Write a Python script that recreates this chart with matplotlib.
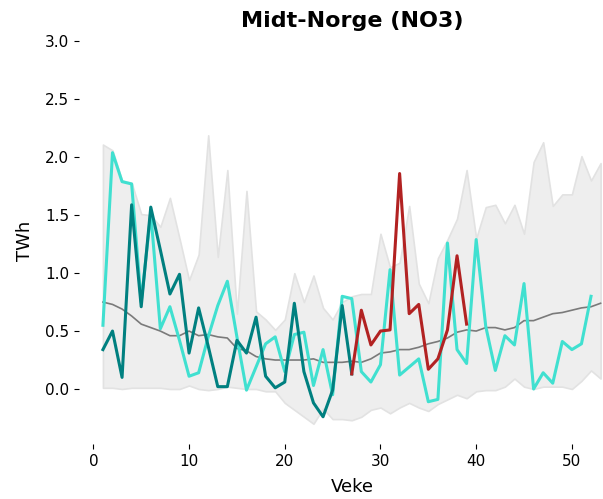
import numpy as np
import matplotlib
matplotlib.use("Agg")
import matplotlib.pyplot as plt

weeks = list(range(1, 54))

# historical band (min / max) and mean per week
band_max = [2.11, 2.06, 1.80, 1.78, 1.51, 1.50, 1.40, 1.65, 1.30, 0.94,
            1.16, 2.19, 1.14, 1.89, 0.65, 1.71, 0.67, 0.60, 0.51, 0.60,
            1.00, 0.75, 0.98, 0.70, 0.60, 0.75, 0.80, 0.82, 0.82, 1.34,
            1.05, 1.09, 1.58, 0.91, 0.74, 1.13, 1.29, 1.47, 1.89, 1.30,
            1.57, 1.59, 1.43, 1.59, 1.34, 1.96, 2.13, 1.58, 1.68, 1.68,
            2.01, 1.80, 1.95]
band_min = [0.01, 0.01, 0.00, 0.01, 0.01, 0.01, 0.01, 0.00, 0.00, 0.03,
            0.00, -0.01, 0.00, 0.02, 0.01, 0.00, 0.00, -0.02, -0.02, -0.12,
            -0.18, -0.24, -0.30, -0.17, -0.26, -0.26, -0.27, -0.24, -0.18, -0.16,
            -0.21, -0.16, -0.12, -0.16, -0.19, -0.13, -0.09, -0.05, -0.08, -0.02,
            -0.01, -0.01, 0.02, 0.09, 0.02, 0.00, 0.02, 0.02, 0.02, 0.00,
            0.07, 0.16, 0.09]
mean = [0.75, 0.73, 0.69, 0.63, 0.56, 0.53, 0.50, 0.46, 0.46, 0.50,
        0.46, 0.47, 0.45, 0.44, 0.35, 0.33, 0.28, 0.26, 0.25, 0.25,
        0.25, 0.25, 0.26, 0.23, 0.23, 0.23, 0.24, 0.23, 0.26, 0.31,
        0.32, 0.34, 0.34, 0.36, 0.39, 0.41, 0.44, 0.49, 0.51, 0.50,
        0.53, 0.53, 0.51, 0.53, 0.59, 0.59, 0.62, 0.65, 0.66, 0.68,
        0.70, 0.71, 0.74]

weeks_cyan = list(range(1, 53))
cyan = [0.55, 2.04, 1.79, 1.77, 0.75, 1.52, 0.52, 0.71, 0.42, 0.11,
        0.14, 0.45, 0.72, 0.93, 0.45, -0.01, 0.19, 0.39, 0.45, 0.15,
        0.47, 0.49, 0.03, 0.34, -0.05, 0.80, 0.78, 0.15, 0.06, 0.21,
        1.03, 0.12, 0.19, 0.26, -0.11, -0.09, 1.26, 0.34, 0.22, 1.29,
        0.54, 0.16, 0.46, 0.38, 0.91, 0.00, 0.14, 0.05, 0.41, 0.34,
        0.39, 0.80]

weeks_teal = list(range(1, 28))
teal = [0.34, 0.50, 0.10, 1.59, 0.71, 1.57, 1.20, 0.82, 0.99, 0.31,
        0.70, 0.37, 0.02, 0.02, 0.42, 0.31, 0.62, 0.11, 0.01, 0.06,
        0.74, 0.15, -0.12, -0.24, -0.01, 0.72, 0.13]

weeks_red = list(range(27, 40))
red = [0.13, 0.68, 0.38, 0.50, 0.51, 1.86, 0.65, 0.73, 0.17, 0.26,
       0.51, 1.15, 0.56]

fig = plt.figure(figsize=(6.03, 4.99), dpi=100)
ax = fig.add_axes([79 / 603, 55 / 499, 546 / 603, 406 / 499])

ax.fill_between(weeks, band_min, band_max, color='#eeeeee',
                edgecolor='#e2e2e2', linewidth=1.2)
ax.plot(weeks, mean, color='#7a7a7a', linewidth=1.2)
ax.plot(weeks_cyan, cyan, color='turquoise', linewidth=2.2)
ax.plot(weeks_teal, teal, color='teal', linewidth=2.2)
ax.plot(weeks_red, red, color='firebrick', linewidth=2.2)

ax.set_xlim(-1.5, 55.55)
ax.set_ylim(-0.475, 3.03)
ax.set_xticks([0, 10, 20, 30, 40, 50])
ax.set_yticks([0.0, 0.5, 1.0, 1.5, 2.0, 2.5, 3.0])
ax.set_yticklabels(['0.0', '0.5', '1.0', '1.5', '2.0', '2.5', '3.0'])
for s in ax.spines.values():
    s.set_visible(False)
ax.tick_params(axis='both', labelsize=11)

ax.set_title("Midt-Norge (NO3)", fontsize=16, fontweight='bold', pad=8)
ax.set_xlabel("Veke", fontsize=13, labelpad=7)
ax.set_ylabel("TWh", fontsize=13, labelpad=8)

fig.savefig('out.png', dpi=100)
